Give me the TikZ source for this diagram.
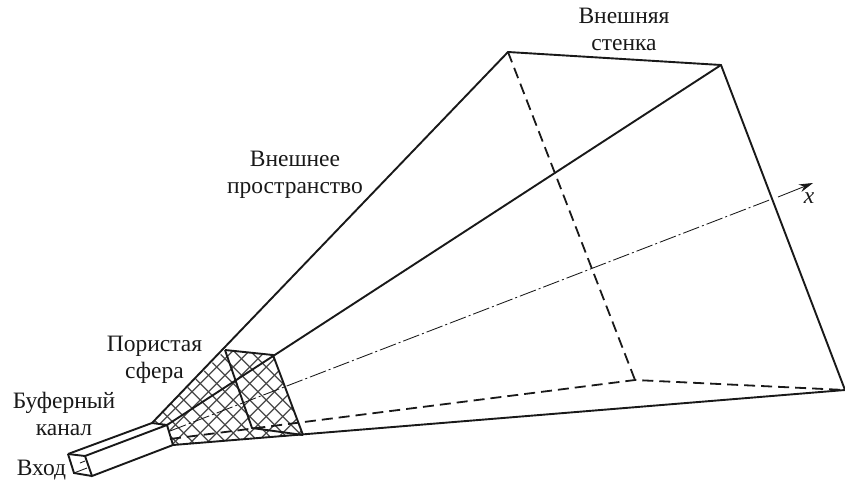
\documentclass[tikz,border=0pt]{standalone}
\usepackage{fontspec}
\setmainfont{Liberation Serif}
\usetikzlibrary{arrows.meta}
\tikzset{
  solidline/.style={line width=1.9pt,black!90,line join=miter},
  hiddenline/.style={line width=1.8pt,black!90,dash pattern=on 11pt off 6pt},
  axisline/.style={line width=0.85pt,black!90,dash pattern=on 17pt off 3pt on 2pt off 3pt},
  lbl/.style={font=\fontsize{23.5}{27}\selectfont,align=center,inner sep=0pt,text=black!90},
  hatchline/.style={line width=1.1pt,black!72}
}
\begin{document}
\begin{tikzpicture}[x=1pt,y=-1pt]
\useasboundingbox (0,0) rectangle (845,479);
\coordinate (A) at (508,52);
\coordinate (B) at (721,65);
\coordinate (C) at (845,390);
\coordinate (D) at (635,380);
\coordinate (a) at (225,350);
\coordinate (b) at (273,355);
\coordinate (c) at (303,435);
\coordinate (d) at (252,428);
\coordinate (p) at (152,423);
\coordinate (q) at (167,425);
\coordinate (r) at (173,445);
\coordinate (s) at (170,439);
\coordinate (f1) at (68,454);
\coordinate (f2) at (85,456);
\coordinate (f3) at (92,476);
\coordinate (f4) at (74,473);
\coordinate (ax) at (170,431);
\coordinate (ay) at (772,199);
\coordinate (az) at (778,197);
\coordinate (tip) at (813,183);
% hatching
\begin{scope}
\clip (p)--(a)--(b)--(c)--(r)--(q)--cycle;
\foreach \i in {-20,...,20}{
  \draw[hatchline] (233.25+\i*16.5,400) ++(-120,-120) -- ++(240,240);
  \draw[hatchline] (233.25+\i*16.5,400) ++(-120,120) -- ++(240,-240);
}
\end{scope}
% axis
\draw[axisline] (ax) -- (ay);
\draw[line width=0.85pt,black!90,-{Stealth[length=14pt,width=8pt]}] (az) -- (tip);
% hidden
\draw[hiddenline] (s) -- (D) -- (C);
\draw[hiddenline] (A) -- (D);
% solid
\draw[solidline] (p) -- (A) -- (B) -- (C) -- (r);
\draw[solidline] (q) -- (B);
\draw[solidline] (a) -- (b) -- (c);
\draw[solidline] (a) -- (d) -- (c);
\draw[solidline] (f1) -- (p) -- (q) -- (r) -- (f3) -- (f2) -- (q);
\draw[solidline] (f1) -- (f2);
\draw[solidline] (f1) -- (f4) -- (f3);
\draw[line width=0.85pt,black!90] (f4) -- (87,468);
\draw[line width=0.85pt,black!90] (80,463) -- (85,461);
% labels
\node[lbl] (l1) at (624,29) {Внешняя\\стенка};
\node[lbl] (l2) at (295,174.5) {Внешнее\\пространство};
\node[lbl] (l3) at (154.5,360) {Пористая\\сфера};
\node[lbl] (l4) at (64,414) {Буферный\\канал};
\node[lbl] (l5) at (41.5,470) {Вход};
\node[lbl,font=\fontsize{23.5}{27}\selectfont\itshape] (l6) at (809,198) {x};
\end{tikzpicture}
\end{document}
